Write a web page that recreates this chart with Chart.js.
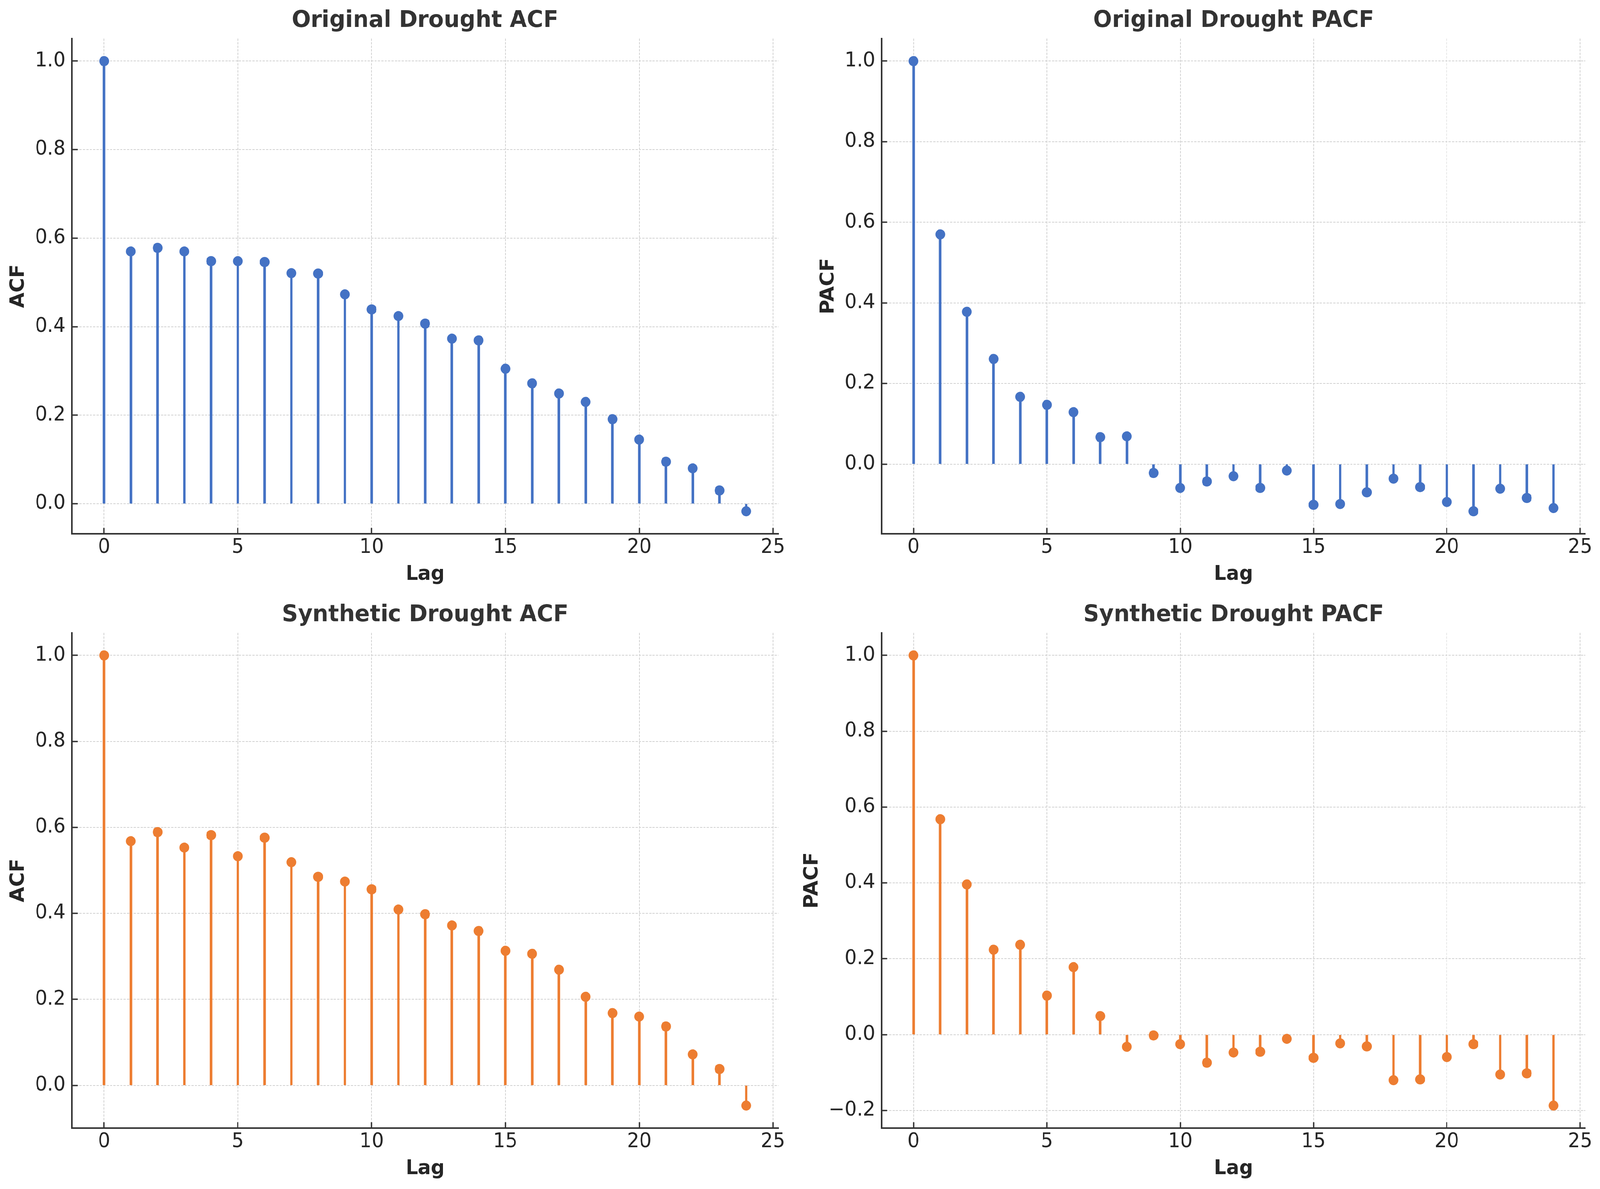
<!DOCTYPE html>
<html>
<head>
<meta charset="utf-8">
<script src="https://cdn.jsdelivr.net/npm/chart.js@4.4.1/dist/chart.umd.min.js"></script>
<style>
  html, body { margin: 0; padding: 0; background: #ffffff; overflow: hidden; }
  #stage { position: absolute; left: 0; top: 0; width: 4247px; height: 3045px; transform-origin: 0 0; background: #ffffff; }
  canvas { position: absolute; }
</style>
</head>
<body>
<div id="stage">
<canvas id="c1"></canvas>
<canvas id="c2"></canvas>
<canvas id="c3"></canvas>
<canvas id="c4"></canvas>
</div>
<script>
// ---------------- DATA ----------------
const lags = [0, 1, 2, 3, 4, 5, 6, 7, 8, 9, 10, 11, 12, 13, 14, 15, 16, 17, 18, 19, 20, 21, 22, 23, 24];

const originalAcf = [1.000, 0.570, 0.578, 0.570, 0.548, 0.548, 0.546, 0.521, 0.520, 0.473, 0.439, 0.424, 0.407,
                     0.373, 0.369, 0.305, 0.272, 0.249, 0.230, 0.191, 0.145, 0.095, 0.080, 0.030, -0.017];

const originalPacf = [1.000, 0.570, 0.378, 0.261, 0.167, 0.147, 0.129, 0.067, 0.069, -0.022, -0.059, -0.043, -0.030,
                      -0.059, -0.016, -0.101, -0.099, -0.070, -0.036, -0.057, -0.094, -0.117, -0.061, -0.084, -0.109];

const syntheticAcf = [1.000, 0.568, 0.589, 0.553, 0.582, 0.533, 0.576, 0.519, 0.485, 0.474, 0.456, 0.409, 0.398,
                      0.372, 0.359, 0.313, 0.306, 0.269, 0.206, 0.168, 0.160, 0.137, 0.072, 0.038, -0.047];

const syntheticPacf = [1.000, 0.568, 0.396, 0.224, 0.237, 0.103, 0.178, 0.049, -0.032, -0.002, -0.025, -0.074, -0.047,
                       -0.045, -0.011, -0.061, -0.023, -0.031, -0.120, -0.118, -0.059, -0.025, -0.105, -0.102, -0.187];

const xTickValues = [0, 5, 10, 15, 20, 25];
const yTickValues = [-0.2, 0.0, 0.2, 0.4, 0.6, 0.8, 1.0];

const titles = ["Original Drought ACF", "Original Drought PACF", "Synthetic Drought ACF", "Synthetic Drought PACF"];
const yLabels = ["ACF", "PACF", "ACF", "PACF"];
const xLabel = "Lag";

// ---------------- STYLE ----------------
const BLUE = '#4472C4';
const ORANGE = '#ED7D31';
const FONT = "'DejaVu Sans', 'Liberation Sans', sans-serif";
const SPINE = '#333333';
const GRID = '#d2d2d2';
const PAGE_W = 4247, PAGE_H = 3045;

// fit the 4247x3045 drawing to the actual viewport
(function fitStage() {
  const vw = window.innerWidth || document.documentElement.clientWidth || PAGE_W;
  const vh = window.innerHeight || document.documentElement.clientHeight || PAGE_H;
  const sx = vw / PAGE_W, sy = vh / PAGE_H;
  if (Math.abs(sx - 1) > 0.002 || Math.abs(sy - 1) > 0.002) {
    document.getElementById('stage').style.transform = 'scale(' + sx + ',' + sy + ')';
  }
})();

Chart.defaults.font.family = FONT;
Chart.defaults.color = '#262626';

function fmt(v) {
  const r = Math.round(v * 10) / 10;
  return (r < 0 ? '\u2212' : '') + Math.abs(r).toFixed(1);
}

function makePanel(cfg) {
  const canvas = document.getElementById(cfg.id);
  canvas.width = cfg.w; canvas.height = cfg.h;
  canvas.style.left = cfg.x + 'px'; canvas.style.top = cfg.y + 'px';
  canvas.style.width = cfg.w + 'px'; canvas.style.height = cfg.h + 'px';

  const vals = cfg.values;
  const lo = Math.min(0, ...vals), hi = Math.max(0, ...vals);
  const ySpan = hi - lo;
  const yMin = lo - 0.05 * ySpan, yMax = hi + 0.05 * ySpan;
  const xSpan = lags[lags.length - 1] - lags[0];
  const xMin = lags[0] - 0.05 * xSpan, xMax = lags[lags.length - 1] + 0.05 * xSpan;

  const pts = lags.map((l, i) => ({ x: l, y: vals[i] }));

  return new Chart(canvas, {
    type: 'scatter',
    data: {
      datasets: [
        {
          type: 'scatter',
          data: pts,
          order: 0,
          pointRadius: 13,
          pointHoverRadius: 13,
          pointBorderWidth: 0,
          pointBackgroundColor: cfg.color,
          showLine: false
        },
        {
          type: 'bar',
          data: pts,
          order: 1,
          barThickness: 6,
          backgroundColor: cfg.color,
          borderWidth: 0
        }
      ]
    },
    options: {
      responsive: false,
      maintainAspectRatio: false,
      devicePixelRatio: 1,
      animation: false,
      events: [],
      layout: { padding: { left: 0, top: 0, right: cfg.rightPad, bottom: 0 } },
      plugins: {
        legend: { display: false },
        tooltip: { enabled: false },
        title: {
          display: true,
          text: cfg.title,
          fullSize: false,
          color: '#333333',
          font: { size: 59, weight: 'bold', family: FONT, lineHeight: 1.2 },
          padding: { top: 18, bottom: 10 }
        }
      },
      scales: {
        x: {
          type: 'linear',
          min: xMin, max: xMax,
          offset: false,
          afterBuildTicks: s => { s.ticks = xTickValues.filter(v => v >= xMin && v <= xMax).map(v => ({ value: v })); },
          afterFit: s => { s.height = cfg.h - 1367; },
          ticks: {
            font: { size: 51, family: FONT },
            color: '#262626',
            padding: 20,
            maxRotation: 0,
            autoSkip: false,
            callback: v => String(v)
          },
          grid: {
            color: GRID, lineWidth: 2,
            drawTicks: true, tickLength: -15, tickColor: SPINE, tickWidth: 3.5, tickBorderDash: [],
            offset: false
          },
          border: { display: true, color: SPINE, width: 4, dash: [6, 3] },
          title: {
            display: true, text: xLabel, color: '#262626',
            font: { size: 51, weight: 'bold', family: FONT, lineHeight: 1.2 },
            padding: { top: 0, bottom: cfg.xTitlePad }
          }
        },
        y: {
          type: 'linear',
          min: yMin, max: yMax,
          afterBuildTicks: s => { s.ticks = yTickValues.filter(v => v >= yMin && v <= yMax).map(v => ({ value: v })); },
          afterFit: s => { s.width = cfg.left; },
          ticks: {
            font: { size: 51, family: FONT },
            color: '#262626',
            padding: 32,
            autoSkip: false,
            callback: v => fmt(v)
          },
          grid: {
            color: GRID, lineWidth: 2,
            drawTicks: true, tickLength: -15, tickColor: SPINE, tickWidth: 3.5, tickBorderDash: []
          },
          border: { display: true, color: SPINE, width: 4, dash: [6, 3] },
          title: {
            display: true, text: cfg.yLabel, color: '#262626',
            font: { size: 51, weight: 'bold', family: FONT, lineHeight: 1.2 },
            padding: { top: cfg.yTitlePad, bottom: 0 }
          }
        }
      }
    }
  });
}

makePanel({ id: 'c1', x: 0,    y: 0,    w: 2124, h: 1522, left: 191, rightPad: 58, yTitlePad: 19, xTitlePad: 20,
            values: originalAcf,  color: BLUE,   title: titles[0], yLabel: yLabels[0] });
makePanel({ id: 'c2', x: 2124, y: 0,    w: 2123, h: 1522, left: 216, rightPad: 36, yTitlePad: 45, xTitlePad: 20,
            values: originalPacf, color: BLUE,   title: titles[1], yLabel: yLabels[1] });
makePanel({ id: 'c3', x: 0,    y: 1522, w: 2124, h: 1523, left: 191, rightPad: 58, yTitlePad: 19, xTitlePad: 21,
            values: syntheticAcf, color: ORANGE, title: titles[2], yLabel: yLabels[2] });
makePanel({ id: 'c4', x: 2124, y: 1522, w: 2123, h: 1523, left: 216, rightPad: 36, yTitlePad: 2,  xTitlePad: 21,
            values: syntheticPacf, color: ORANGE, title: titles[3], yLabel: yLabels[3] });
</script>
</body>
</html>
